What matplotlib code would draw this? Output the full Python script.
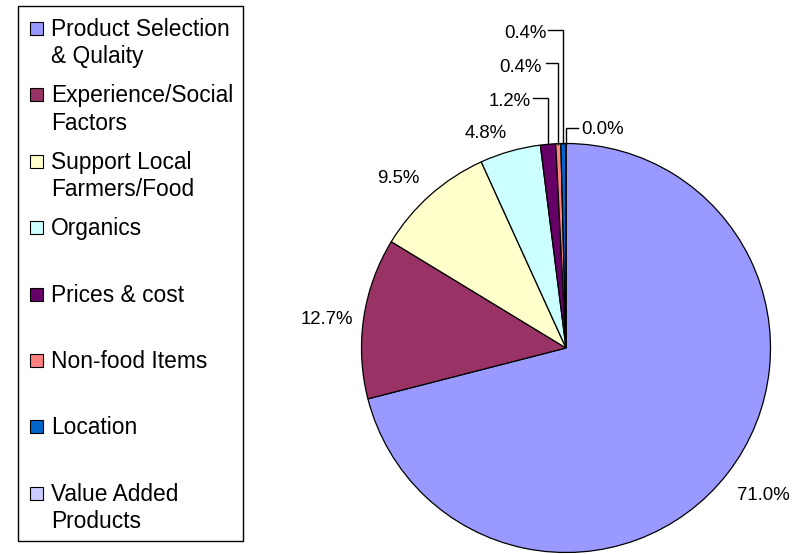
import matplotlib
matplotlib.use("Agg")
import matplotlib.pyplot as plt
from matplotlib.patches import Rectangle
import numpy as np

# Survey: reasons for shopping at the market (share of responses, %)
categories = [
    "Product Selection\n& Qulaity",
    "Experience/Social\nFactors",
    "Support Local\nFarmers/Food",
    "Organics",
    "Prices & cost",
    "Non-food Items",
    "Location",
    "Value Added\nProducts",
]
shares = [71.0, 12.7, 9.5, 4.8, 1.2, 0.4, 0.4, 0.0]
colors = ["#9999FF", "#993366", "#FFFFCC", "#CCFFFF",
          "#660066", "#FF8080", "#0066CC", "#CCCCFF"]

W, H = 800, 554
plt.rcParams['font.family'] = ['Liberation Sans', 'DejaVu Sans']

fig = plt.figure(figsize=(W / 100, H / 100), dpi=100)
ax = fig.add_axes([0, 0, 1, 1])


def Y(py):
    """Convert a top-down pixel row to the axes' bottom-up coordinate."""
    return H - py


CX, CY, R = 566, Y(348), 204.5
wedges, _ = ax.pie(shares, colors=colors, startangle=90, counterclock=False,
                   center=(CX, CY), radius=R,
                   wedgeprops=dict(edgecolor='black', linewidth=0.9))
ax.set_xlim(0, W)
ax.set_ylim(0, H)
ax.set_aspect('auto')
ax.axis('off')

# Percentage labels; the thinnest slices get elbow leader lines
label_layout = [
    dict(x=763.5, base=500, ha='center'),
    dict(x=326.5, base=324, ha='center'),
    dict(x=398.5, base=183, ha='center'),
    dict(x=485.5, base=138.5, ha='center'),
    dict(x=530.5, base=106, ha='right', lead_y=98, lead_x=533),
    dict(x=542, base=71.7, ha='right', lead_y=63.3, lead_x=546),
    dict(x=546.5, base=37.7, ha='right', lead_y=30, lead_x=548),
    dict(x=581.5, base=134, ha='left', lead_y=127.7, lead_x=578),
]
for w, v, lay in zip(wedges, shares, label_layout):
    ax.text(lay['x'], Y(lay['base']), f"{v:.1f}%", ha=lay['ha'], va='baseline',
            fontsize=13.4, color='black')
    if 'lead_y' in lay:
        mid = np.deg2rad((w.theta1 + w.theta2) / 2)
        px = CX + R * np.cos(mid)
        py = CY + R * np.sin(mid)
        ax.plot([lay['lead_x'], px, px], [Y(lay['lead_y']), Y(lay['lead_y']), py],
                color='black', lw=1.0, solid_joinstyle='miter')

# Legend panel
ax.add_patch(Rectangle((18, Y(541)), 225, 535, facecolor='white',
                       edgecolor='black', lw=1.0, zorder=3))
row0, row_step, line_step = 28.5, 66.4, 27.3
for i, (name, col) in enumerate(zip(categories, colors)):
    cyp = row0 + i * row_step
    ax.add_patch(Rectangle((29.5, Y(cyp + 6.5)), 13, 13, facecolor=col,
                           edgecolor='black', lw=0.8, zorder=4))
    for j, line in enumerate(name.split("\n")):
        ax.text(51, Y(cyp + 7.5 + j * line_step), line, ha='left',
                va='baseline', fontsize=16.4, color='black', zorder=5)

fig.savefig("out.png", dpi=100)
